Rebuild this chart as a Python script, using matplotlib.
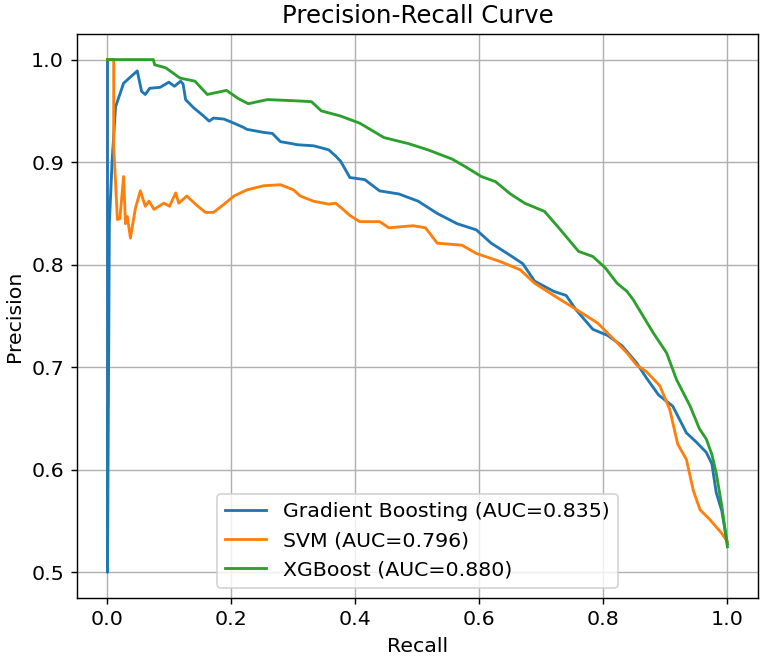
import matplotlib
matplotlib.use("Agg")
import matplotlib.pyplot as plt

# Gradient Boosting (recall, precision)
gb_recall = [0.0, 0.0, 0.0, 0.003, 0.0076, 0.013, 0.026, 0.048, 0.055, 0.061, 0.068,
             0.085, 0.099, 0.108, 0.118, 0.122, 0.126, 0.139, 0.155, 0.164, 0.171,
             0.188, 0.204, 0.219, 0.225, 0.252, 0.266, 0.279, 0.298, 0.306, 0.332,
             0.345, 0.357, 0.368, 0.376, 0.391, 0.415, 0.439, 0.47, 0.501, 0.532,
             0.564, 0.595, 0.619, 0.65, 0.67, 0.689, 0.72, 0.74, 0.756, 0.783,
             0.807, 0.83, 0.854, 0.869, 0.889, 0.912, 0.934, 0.95, 0.966, 0.975,
             0.982, 0.991, 1.0]
gb_precision = [1.0, 0.5, 0.5, 0.84, 0.903, 0.954, 0.977, 0.989, 0.969, 0.966, 0.972,
                0.973, 0.978, 0.974, 0.979, 0.976, 0.961, 0.953, 0.945, 0.94, 0.943,
                0.942, 0.938, 0.934, 0.932, 0.929, 0.928, 0.92, 0.918, 0.917, 0.916,
                0.914, 0.912, 0.906, 0.901, 0.885, 0.883, 0.872, 0.869, 0.862, 0.85,
                0.84, 0.834, 0.821, 0.809, 0.801, 0.784, 0.774, 0.77, 0.756, 0.737,
                0.731, 0.721, 0.704, 0.69, 0.673, 0.662, 0.636, 0.627, 0.617, 0.606,
                0.578, 0.56, 0.528]

# SVM
svm_recall = [0.0, 0.01, 0.01, 0.013, 0.016, 0.02, 0.026, 0.029, 0.032, 0.037, 0.045,
              0.053, 0.061, 0.067, 0.075, 0.091, 0.1, 0.11, 0.115, 0.128, 0.142,
              0.158, 0.171, 0.188, 0.204, 0.225, 0.252, 0.279, 0.3, 0.311, 0.332,
              0.357, 0.368, 0.38, 0.391, 0.407, 0.439, 0.454, 0.493, 0.513, 0.532,
              0.572, 0.595, 0.634, 0.666, 0.689, 0.72, 0.752, 0.791, 0.814, 0.838,
              0.854, 0.869, 0.891, 0.907, 0.92, 0.934, 0.945, 0.956, 0.971, 0.991,
              1.0]
svm_precision = [1.0, 1.0, 0.915, 0.88, 0.844, 0.845, 0.886, 0.84, 0.847, 0.826, 0.855,
                 0.872, 0.857, 0.862, 0.854, 0.86, 0.857, 0.87, 0.86, 0.867, 0.859,
                 0.851, 0.851, 0.859, 0.867, 0.873, 0.877, 0.878, 0.873, 0.867, 0.862,
                 0.859, 0.86, 0.854, 0.848, 0.842, 0.842, 0.836, 0.838, 0.836, 0.821,
                 0.819, 0.811, 0.803, 0.795, 0.782, 0.77, 0.758, 0.743, 0.729, 0.714,
                 0.702, 0.696, 0.682, 0.659, 0.625, 0.61, 0.58, 0.561, 0.552, 0.538,
                 0.53]

# XGBoost
xgb_recall = [0.0, 0.074, 0.076, 0.094, 0.117, 0.141, 0.161, 0.192, 0.211, 0.227,
              0.258, 0.298, 0.329, 0.345, 0.376, 0.407, 0.446, 0.486, 0.517, 0.556,
              0.579, 0.603, 0.626, 0.65, 0.673, 0.705, 0.728, 0.76, 0.783, 0.803,
              0.822, 0.838, 0.848, 0.869, 0.88, 0.902, 0.918, 0.94, 0.955, 0.966,
              0.975, 0.982, 0.991, 1.0]
xgb_precision = [1.0, 1.0, 0.995, 0.992, 0.982, 0.979, 0.966, 0.97, 0.962, 0.957,
                 0.961, 0.96, 0.959, 0.95, 0.945, 0.938, 0.924, 0.918, 0.912, 0.903,
                 0.895, 0.886, 0.881, 0.869, 0.86, 0.852, 0.836, 0.813, 0.808, 0.797,
                 0.782, 0.774, 0.766, 0.745, 0.734, 0.714, 0.688, 0.662, 0.64, 0.63,
                 0.615, 0.597, 0.565, 0.525]

labels = ["Gradient Boosting (AUC=0.835)", "SVM (AUC=0.796)", "XGBoost (AUC=0.880)"]

plt.rcParams['font.size'] = 11.5
plt.rcParams['axes.titlesize'] = 13.8

fig = plt.figure(figsize=(762 / 128, 661 / 128), dpi=128)
ax = fig.add_axes([0.1004, 0.0953, 0.8948, 0.8533])

ax.plot(gb_recall, gb_precision, label=labels[0], lw=1.6)
ax.plot(svm_recall, svm_precision, label=labels[1], lw=1.6)
ax.plot(xgb_recall, xgb_precision, label=labels[2], lw=1.6)

ax.set_xlim(-0.05, 1.05)
ax.set_ylim(0.475, 1.025)
ax.set_xlabel("Recall")
ax.set_ylabel("Precision")
ax.set_title("Precision-Recall Curve")
ax.legend(loc="lower center")
ax.grid(True)

fig.savefig("out.png", dpi=128)
